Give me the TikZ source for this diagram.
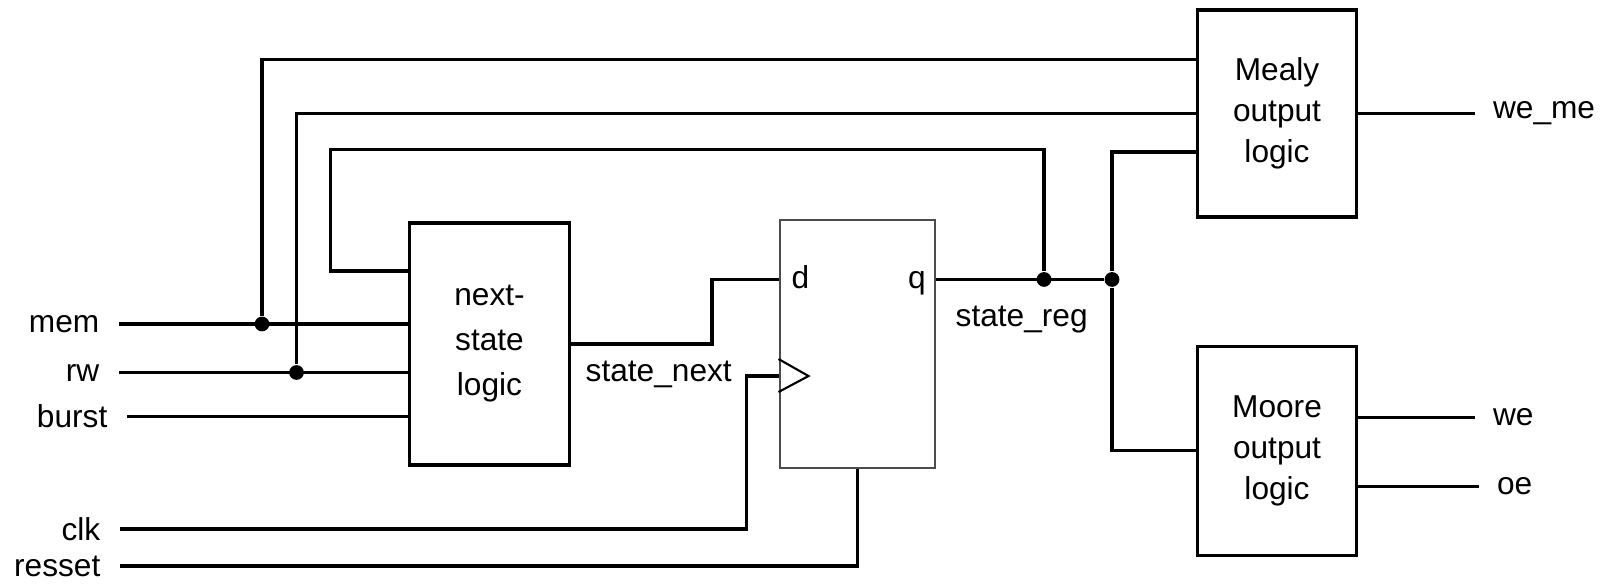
\documentclass[tikz,border=0pt]{standalone}
\usepackage{fontspec}
\setmainfont{Liberation Sans}
\usetikzlibrary{positioning}

\begin{document}
\begin{tikzpicture}[
    x=0.01cm, y=-0.01cm,
    node distance=1.26cm and 2.075cm,
    font=\fontsize{9}{11.6}\selectfont,
    wire/.style={line width=0.9pt},
    logicbox/.style={draw, line width=0.9pt, minimum width=1.595cm, align=center},
    regbox/.style={draw, black!70, line width=0.6pt, minimum width=1.555cm, minimum height=2.475cm},
    inlbl/.style={anchor=east, inner xsep=5.4pt, inner ysep=0pt},
    outlbl/.style={anchor=west, inner xsep=4.8pt, inner ysep=0pt},
    sig/.style={inner sep=0pt},
    dot/.style={circle, fill, inner sep=0pt, minimum size=4.2pt}
]
\useasboundingbox (0,0) rectangle (1604,585);

% blocks
\node[logicbox, minimum height=2.42cm, font=\fontsize{9}{12.8}\selectfont] (nextstate) at (489.5,344) {next-\\state\\logic};
\node[regbox, right=of nextstate] (reg) {};
\node[logicbox, minimum height=2.07cm] (mealy) at (1277,113.5) {Mealy\\output\\logic};
\node[logicbox, minimum height=2.09cm, below=of mealy] (moore) {Moore\\output\\logic};

% register pins
\coordinate (dpin) at ([yshift=0.645cm]reg.west);
\coordinate (qpin) at ([yshift=0.645cm]reg.east);
\coordinate (clkpin) at ([yshift=-0.32cm]reg.west);
\node[sig, anchor=base west, inner xsep=3.5pt] (dlbl) at ([yshift=-0.09cm]dpin) {d};
\node[sig, anchor=base east, inner xsep=2.8pt] (qlbl) at ([yshift=-0.09cm]qpin) {q};
\draw[line width=0.6pt] ([yshift=0.17cm]clkpin) -- ([xshift=0.3cm]clkpin) -- ([yshift=-0.16cm]clkpin);

% inputs
\node[inlbl] (mem) at (119,324) {mem};
\node[inlbl] (rw) at (119,372.5) {rw};
\node[inlbl] (burst) at (127,416.5) {burst};
\node[inlbl] (clk) at (120,529) {clk};
\node[inlbl] (resset) at (120,566) {resset};

% outputs
\coordinate (mealy1) at ([yshift=-0.515cm]mealy.north west);
\coordinate (mealy2) at (mealy.west);
\coordinate (mealy3) at ([yshift=-0.385cm]mealy.west);
\coordinate (moore1) at ([yshift=0.335cm]moore.east);
\coordinate (moore2) at ([yshift=-0.355cm]moore.east);
\node[outlbl] (weme) at ([xshift=1.17cm]mealy.east) {we\_me};
\node[outlbl] (we) at ([xshift=1.17cm]moore1) {we};
\node[outlbl] (oe) at ([xshift=1.21cm]moore2) {oe};

% signal names
\node[sig, anchor=base west] (nextlbl) at (585,381) {state\_next};
\node[sig, anchor=base west] (reglbl) at (955,326) {state\_reg};

% junctions
\coordinate (regx) at (1044,0);
\coordinate (fbx) at (1112,0);
\node[dot] (memdot) at (262,324) {};
\node[dot] (rwdot) at (296.5,372.5) {};
\node[dot] (regdot) at (qpin -| regx) {};
\node[dot] (fbdot) at (qpin -| fbx) {};
\coordinate (fbcorner) at (330.5,149.5);
\coordinate (nsfb) at ([yshift=0.73cm]nextstate.west);
\coordinate (dbend) at (712,0);
\coordinate (clkbend) at (746.5,0);

% wires
\draw[wire] (mem.east) -- (mem.east -| nextstate.west);
\draw[wire] (rw.east) -- (rw.east -| nextstate.west);
\draw[wire] (burst.east) -- (burst.east -| nextstate.west);
\draw[wire] (memdot) |- (mealy1);
\draw[wire] (rwdot) |- (mealy2);
\draw[wire] (nextstate.east) -- (nextstate.east -| dbend) |- (dpin);
\draw[wire] (clk.east) -- (clk.east -| clkbend) |- (clkpin);
\draw[wire] (resset.east) -| (reg.south);
\draw[wire] (qpin) -- (fbdot);
\draw[wire] (regdot) |- (fbcorner) |- (nsfb);
\draw[wire] (mealy3) -| (fbdot) |- (moore.west);
\draw[wire] (mealy.east) -- (mealy.east -| weme.west);
\draw[wire] (moore1) -- (we.west);
\draw[wire] (moore2) -- (oe.west);
\end{tikzpicture}
\end{document}
